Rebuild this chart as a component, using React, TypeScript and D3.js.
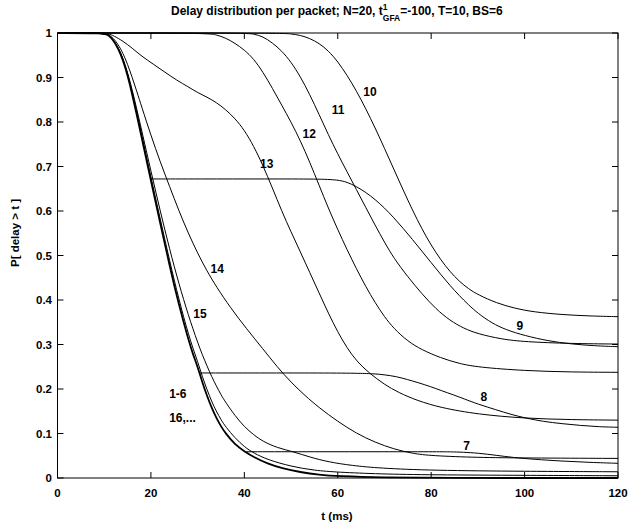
import React from "react";
import * as d3 from "d3";

type Pt = [number, number];

// Axis ticks
const xTicks = [0, 20, 40, 60, 80, 100, 120];
const yTicks = [0, 0.1, 0.2, 0.3, 0.4, 0.5, 0.6, 0.7, 0.8, 0.9, 1];
const yTickText = ["0", "0.1", "0.2", "0.3", "0.4", "0.5", "0.6", "0.7", "0.8", "0.9", "1"];

// P[delay > t] per packet index, (t in ms, probability)
const packets1to6: Pt[] = [
  [0, 1], [10, 1], [11, 0.995], [12, 0.983], [13, 0.965], [14, 0.94], [15, 0.905], [16, 0.862],
  [17, 0.815], [18, 0.766], [19, 0.717], [20, 0.668], [21, 0.62], [22, 0.572], [23, 0.525],
  [24, 0.478], [25, 0.432], [26, 0.39], [27, 0.35], [28, 0.312], [29, 0.278], [30, 0.25],
  [31, 0.215], [32, 0.185], [33, 0.158], [34, 0.135], [35, 0.116], [36, 0.1], [38, 0.075],
  [40, 0.06], [42, 0.047], [45, 0.032], [48, 0.022], [52, 0.013], [56, 0.007], [60, 0.004],
  [70, 0.001], [80, 0], [120, 0],
];

const packets16: Pt[] = [
  [0, 1], [10, 1], [11, 0.995], [12, 0.984], [13, 0.967], [14, 0.943], [15, 0.909], [16, 0.867],
  [17, 0.821], [18, 0.773], [19, 0.725], [20, 0.677], [21, 0.629], [22, 0.582], [23, 0.535],
  [24, 0.489], [25, 0.444], [26, 0.402], [27, 0.362], [28, 0.325], [29, 0.291], [30, 0.262],
  [31, 0.228], [32, 0.199], [33, 0.172], [34, 0.15], [35, 0.131], [36, 0.115], [38, 0.09],
  [40, 0.07], [42, 0.056], [45, 0.041], [50, 0.026], [55, 0.017], [60, 0.013], [69, 0.009],
  [80, 0.007], [100, 0.006], [120, 0.005],
];

const packet15: Pt[] = [
  [0, 1], [10, 1], [11, 0.995], [12, 0.984], [13, 0.967], [14, 0.944], [15, 0.912], [16, 0.872],
  [17, 0.828], [18, 0.782], [19, 0.736], [20, 0.69], [21, 0.645], [22, 0.6], [23, 0.557],
  [24, 0.515], [25, 0.475], [26, 0.437], [27, 0.401], [28, 0.367], [29, 0.335], [30, 0.305],
  [31, 0.277], [32, 0.252], [33, 0.228], [34, 0.207], [35, 0.187], [36, 0.17], [38, 0.14],
  [40, 0.115], [42, 0.097], [44, 0.082], [47, 0.068], [50.5, 0.059], [54, 0.047], [58, 0.036],
  [63, 0.028], [69, 0.022], [80, 0.017], [100, 0.015], [120, 0.014],
];

const packet14: Pt[] = [
  [0, 1], [10, 1], [11, 0.996], [12, 0.988], [13, 0.974], [14, 0.955], [15, 0.93], [16, 0.9],
  [17, 0.868], [18, 0.835], [20, 0.77], [22, 0.71], [24, 0.655], [26, 0.6], [28, 0.55],
  [30, 0.505], [32, 0.465], [34, 0.43], [37, 0.383], [40.5, 0.335], [44, 0.29], [47, 0.25],
  [50, 0.215], [53, 0.185], [56, 0.158], [60, 0.127], [64, 0.1], [68, 0.08], [72, 0.065],
  [76, 0.055], [80, 0.05], [90, 0.046], [100, 0.045], [120, 0.044],
];

const packet13: Pt[] = [
  [0, 1], [10, 1], [11, 0.998], [12, 0.994], [14, 0.982], [16, 0.966], [18, 0.948],
  [20.5, 0.93], [23, 0.912], [25.5, 0.894], [28, 0.879], [30, 0.866], [32, 0.856],
  [34, 0.844], [36, 0.828], [38, 0.808], [40, 0.782], [42, 0.746], [44, 0.702], [46, 0.652],
  [48, 0.6], [50, 0.553], [52, 0.508], [54, 0.462], [56, 0.416], [58, 0.37], [60, 0.328],
  [62, 0.292], [64, 0.263], [66.7, 0.236], [70, 0.21], [73, 0.192], [77, 0.174], [82, 0.158],
  [90, 0.143], [100, 0.134], [110, 0.131], [120, 0.13],
];

const packet12: Pt[] = [
  [0, 1], [32, 1], [34, 0.996], [36, 0.989], [38, 0.977], [40, 0.962], [42, 0.942], [44, 0.912],
  [46, 0.876], [48, 0.838], [50, 0.8], [52, 0.758], [54, 0.71], [56, 0.658], [58, 0.606],
  [60, 0.558], [62, 0.513], [64, 0.47], [66, 0.43], [68, 0.394], [70, 0.362], [72, 0.336],
  [75, 0.307], [78, 0.288], [82, 0.27], [86, 0.257], [90, 0.249], [100, 0.241], [110, 0.238],
  [120, 0.2375],
];

const packet11: Pt[] = [
  [0, 1], [40, 1], [42, 0.998], [44, 0.992], [46, 0.978], [48, 0.96], [50, 0.935], [52, 0.902],
  [54, 0.862], [56, 0.817], [58, 0.771], [60, 0.728], [62, 0.688], [64, 0.648], [66, 0.608],
  [68, 0.568], [70, 0.53], [72, 0.494], [75, 0.452], [78, 0.414], [81, 0.38], [84, 0.354],
  [87, 0.336], [90, 0.324], [95, 0.312], [100, 0.306], [110, 0.302], [120, 0.301],
];

const packet10: Pt[] = [
  [0, 1], [48, 1], [50, 0.998], [52, 0.995], [54, 0.988], [56, 0.977], [58, 0.96], [60, 0.936],
  [62, 0.905], [64, 0.87], [66, 0.83], [68, 0.787], [70, 0.741], [72, 0.694], [74, 0.647],
  [76, 0.602], [78, 0.56], [80, 0.523], [82, 0.491], [84, 0.464], [86, 0.442], [88, 0.425],
  [90, 0.412], [94, 0.393], [98, 0.381], [102, 0.373], [108, 0.367], [114, 0.364], [120, 0.3625],
];

// Packets 7-9 leave the common curve at a plateau, then fall again
const packet9: Pt[] = [
  [19.9, 0.672], [30, 0.672], [45, 0.672], [56, 0.672], [60, 0.67], [62, 0.665], [64, 0.655],
  [66, 0.642], [68, 0.626], [70, 0.607], [72, 0.585], [74, 0.561], [76, 0.536], [78, 0.51],
  [80, 0.484], [82, 0.458], [84, 0.433], [86, 0.41], [88, 0.389], [90, 0.37], [93, 0.348],
  [96, 0.333], [100, 0.32], [105, 0.308], [110, 0.301], [115, 0.297], [120, 0.295],
];

const packet8: Pt[] = [
  [30.4, 0.236], [45, 0.236], [60, 0.236], [66, 0.235], [68, 0.234], [70, 0.232], [72.6, 0.228],
  [75, 0.221], [77, 0.215], [80, 0.205], [82, 0.197], [85, 0.186], [87, 0.178], [90, 0.166],
  [94, 0.153], [97, 0.143], [100.5, 0.134], [104, 0.127], [108, 0.122], [112, 0.118],
  [116, 0.115], [120, 0.114],
];

const packet7: Pt[] = [
  [40.4, 0.059], [55, 0.059], [70, 0.059], [82, 0.059], [84, 0.0588], [86.9, 0.058], [90, 0.056],
  [94, 0.051], [97.5, 0.046], [102, 0.042], [108, 0.038], [114, 0.035], [120, 0.033],
];

const series: { pts: Pt[]; width: number }[] = [
  { pts: packets16, width: 1 },
  { pts: packets1to6, width: 1.8 },
  { pts: packet15, width: 1 },
  { pts: packet14, width: 1 },
  { pts: packet13, width: 1 },
  { pts: packet12, width: 1 },
  { pts: packet11, width: 1 },
  { pts: packet10, width: 1 },
  { pts: packet9, width: 1 },
  { pts: packet8, width: 1 },
  { pts: packet7, width: 1 },
];

// Curve annotations placed in data coordinates
const curveLabels: { text: string; t: number; p: number; anchor: string }[] = [
  { text: "10", t: 66.9, p: 0.868, anchor: "middle" },
  { text: "11", t: 60.1, p: 0.827, anchor: "middle" },
  { text: "12", t: 53.9, p: 0.773, anchor: "middle" },
  { text: "13", t: 44.8, p: 0.707, anchor: "middle" },
  { text: "14", t: 34.2, p: 0.471, anchor: "middle" },
  { text: "15", t: 30.5, p: 0.37, anchor: "middle" },
  { text: "1-6", t: 23.9, p: 0.19, anchor: "start" },
  { text: "16,...", t: 23.9, p: 0.136, anchor: "start" },
  { text: "9", t: 99.0, p: 0.342, anchor: "middle" },
  { text: "8", t: 91.3, p: 0.183, anchor: "middle" },
  { text: "7", t: 87.6, p: 0.072, anchor: "middle" },
];

const W = 630;
const H = 527;
const M = { left: 57.5, right: 618, top: 33, bottom: 478 };
const FONT = "'Liberation Sans', Arial, Helvetica, sans-serif";

export default function App() {
  const x = d3.scaleLinear().domain([0, 120]).range([M.left, M.right]);
  const y = d3.scaleLinear().domain([0, 1]).range([M.bottom, M.top]);
  const line = d3
    .line<Pt>()
    .x((d) => x(d[0]))
    .y((d) => y(d[1]))
    .curve(d3.curveBasis);
  const tick = 6;

  return (
    <svg
      width={W}
      height={H}
      style={{ position: "absolute", left: 0, top: 0, background: "#fff" }}
      fontFamily={FONT}
      fontWeight="bold"
    >
      <rect x={0} y={0} width={W} height={H} fill="#fff" />
      <defs>
        <clipPath id="plot">
          <rect x={M.left} y={M.top - 1} width={M.right - M.left} height={M.bottom - M.top + 2} />
        </clipPath>
      </defs>

      {/* curves */}
      <g clipPath="url(#plot)" fill="none" stroke="#000">
        {series.map((s, i) => (
          <path key={i} d={line(s.pts) || ""} strokeWidth={s.width} strokeLinejoin="round" />
        ))}
      </g>

      {/* frame and ticks */}
      <g stroke="#000" strokeWidth={1} fill="none">
        <rect x={M.left} y={M.top} width={M.right - M.left} height={M.bottom - M.top} />
        {xTicks.map((v) => (
          <g key={"xt" + v}>
            <line x1={x(v)} x2={x(v)} y1={M.bottom} y2={M.bottom - tick} />
            <line x1={x(v)} x2={x(v)} y1={M.top} y2={M.top + tick} />
          </g>
        ))}
        {yTicks.map((v) => (
          <g key={"yt" + v}>
            <line x1={M.left} x2={M.left + tick} y1={y(v)} y2={y(v)} />
            <line x1={M.right} x2={M.right - tick} y1={y(v)} y2={y(v)} />
          </g>
        ))}
      </g>

      {/* tick labels */}
      <g fontSize={11.5} fill="#000">
        {xTicks.map((v) => (
          <text key={"xl" + v} x={x(v)} y={497} textAnchor="middle">
            {v}
          </text>
        ))}
        {yTicks.map((v, i) => (
          <text key={"yl" + v} x={52} y={y(v)} dy="0.36em" textAnchor="end">
            {yTickText[i]}
          </text>
        ))}
      </g>

      {/* curve labels */}
      <g fontSize={12} fill="#000">
        {curveLabels.map((l) => (
          <text key={l.text} x={x(l.t)} y={y(l.p)} dy="0.36em" textAnchor={l.anchor}>
            {l.text}
          </text>
        ))}
      </g>

      {/* axis titles */}
      <text x={337} y={520} fontSize={11.5} textAnchor="middle">
        t (ms)
      </text>
      <text
        transform="translate(15,233) rotate(-90)"
        fontSize={11.5}
        textAnchor="middle"
        dy="0.36em"
      >
        P[ delay &gt; t ]
      </text>

      {/* title */}
      <text x={171} y={15} fontSize={12}>
        <tspan>Delay distribution per packet; N=20, t</tspan>
        <tspan fontSize={8.5} dy={-5}>1</tspan>
        <tspan fontSize={8.5} dx={-4.7} dy={10.7}>GFA</tspan>
        <tspan dy={-5.7}>=-100, T=10, BS=6</tspan>
      </text>
    </svg>
  );
}
